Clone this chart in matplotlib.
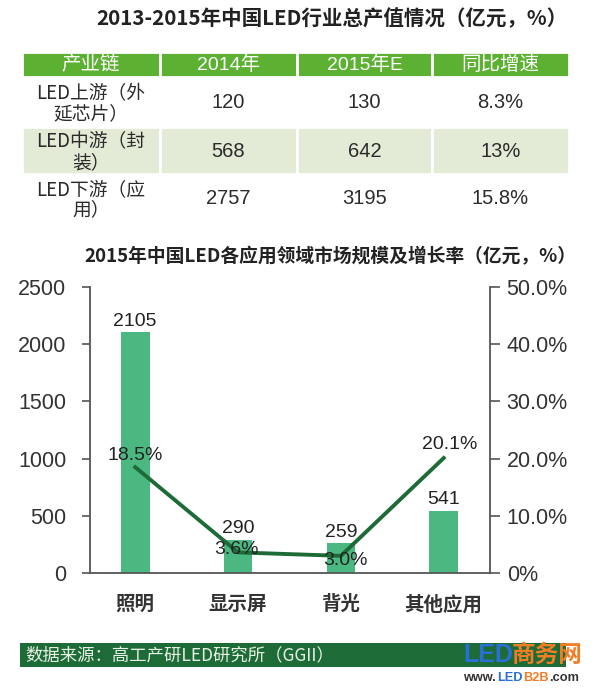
import matplotlib
matplotlib.use('Agg')
import matplotlib.pyplot as plt
from matplotlib.patches import Rectangle
import numpy as np

# table data
table_head = ['产业链', '2014年', '2015年E', '同比增速']
chain = [['LED上游（外', '延芯片）'], ['LED中游（封', '装）'], ['LED下游（应', '用）']]
value_2014 = [120, 568, 2757]
value_2015 = [130, 642, 3195]
growth = ['8.3%', '13%', '15.8%']

# chart data
apps = ['照明', '显示屏', '背光', '其他应用']
market = [2105, 290, 259, 541]
rate = [18.5, 3.6, 3.0, 20.1]
left_ticks = [0, 500, 1000, 1500, 2000, 2500]
right_ticks = [0, 10, 20, 30, 40, 50]

W, H = 600, 695
CJK = ['Noto Sans CJK SC', 'Liberation Sans']
NUM = ['Liberation Sans', 'DejaVu Sans']
TXT = '#2b2b2b'
HEAD_GREEN = '#5cb032'
ROW_SHADE = '#e3ebd7'
BAR_GREEN = '#4cb881'
LINE_GREEN = '#1d6b37'
AXIS_GRAY = '#555555'


def box(left, top, right, bottom):
    """pixel box -> figure fraction rect"""
    return [left / W, 1 - bottom / H, (right - left) / W, (bottom - top) / H]


fig = plt.figure(figsize=(W / 100, H / 100), dpi=100)
fig.patch.set_facecolor('white')

# ---- titles
fig.text(332 / W, 1 - 19 / H, '2013-2015年中国LED行业总产值情况（亿元，%）',
         family=CJK, fontsize=14.8, fontweight='bold', color='#222222',
         ha='center', va='center')
fig.text(330 / W, 1 - 257 / H, '2015年中国LED各应用领域市场规模及增长率（亿元，%）',
         family=CJK, fontsize=13.5, fontweight='bold', color='#222222',
         ha='center', va='center')

# ---- table
col_w = [138, 137, 135, 137]
row_h = [25, 50, 47, 48]
col_x = np.concatenate([[0], np.cumsum(col_w)])
row_y = np.concatenate([[0], np.cumsum(row_h)])

ax_t = fig.add_axes(box(22, 52, 22 + col_x[-1], 52 + row_y[-1]))
ax_t.set_xlim(0, col_x[-1])
ax_t.set_ylim(row_y[-1], 0)
ax_t.axis('off')

rows = [table_head] + [[c, str(a), str(b), g] for c, a, b, g in
                       zip(chain, value_2014, value_2015, growth)]
for i, row in enumerate(rows):
    for j, cell in enumerate(row):
        x0, x1 = col_x[j], col_x[j + 1]
        y0, y1 = row_y[i], row_y[i + 1]
        xc, yc = (x0 + x1) / 2, (y0 + y1) / 2
        if i == 0:
            ax_t.add_patch(Rectangle((x0, y0), x1 - x0, y1 - y0,
                                     facecolor=HEAD_GREEN, edgecolor='white', linewidth=2))
            fam = CJK if j in (0, 3) else NUM + ['Noto Sans CJK SC']
            ax_t.text(xc, yc, cell, family=fam, fontsize=14, color='white',
                      ha='center', va='center')
            continue
        if i == 2:
            ax_t.add_patch(Rectangle((x0, y0), x1 - x0, y1 - y0,
                                     facecolor=ROW_SHADE, edgecolor='white', linewidth=2))
        if isinstance(cell, list):
            ax_t.text(xc, yc - 8.5, cell[0], family=CJK, fontsize=13.5, color=TXT,
                      ha='center', va='center')
            ax_t.text(xc, yc + 12, cell[1], family=CJK, fontsize=13.5, color=TXT,
                      ha='center', va='center')
        else:
            ax_t.text(xc, yc + 1, cell, family=NUM, fontsize=14.5, color=TXT,
                      ha='center', va='center')

# ---- combo chart
ax = fig.add_axes(box(90, 287, 490, 573))
x = np.arange(len(apps))
ax.bar(x, market, width=0.28, color=BAR_GREEN, zorder=2)
ax.set_xlim(-0.44, 3.45)
ax.set_ylim(0, 2500)
ax.set_yticks(left_ticks)
ax.set_yticklabels([str(t) for t in left_ticks], family=NUM,
                   fontsize=15.5, color='#333333')
ax.set_xticks(x)
ax.set_xticklabels(apps, family=CJK, fontsize=14, fontweight='bold', color='#333333')
ax.tick_params(axis='y', direction='out', length=6, width=1.2, color=AXIS_GRAY, pad=11)
ax.tick_params(axis='x', length=0, pad=16)
for side in ['left', 'bottom']:
    ax.spines[side].set_color(AXIS_GRAY)
    ax.spines[side].set_linewidth(1.3)
ax.spines['top'].set_visible(False)
ax.spines['right'].set_visible(False)

for xi, v in zip(x, market):
    ax.annotate(str(v), (xi, v), xytext=(0, 8), textcoords='offset points',
                ha='center', va='center', family=NUM,
                fontsize=14, color='#222222')

ax2 = ax.twinx()
ax2.set_ylim(0, 50)
ax2.set_yticks(right_ticks)
ax2.set_yticklabels(['0%' if t == 0 else f'{t:.1f}%' for t in right_ticks],
                    family=NUM, fontsize=15.5, color='#333333')
ax2.tick_params(axis='y', direction='out', length=7, width=1.2, color=AXIS_GRAY, pad=5)
ax2.spines['right'].set_color(AXIS_GRAY)
ax2.spines['right'].set_linewidth(1.3)
for side in ['left', 'top', 'bottom']:
    ax2.spines[side].set_visible(False)
ax2.plot(x, rate, color=LINE_GREEN, linewidth=2.8, zorder=3)

rate_offsets = [(0, 8.5), (-1, 2), (3, -3.5), (4, 9.5)]
for xi, r, off in zip(x, rate, rate_offsets):
    ax2.annotate(f'{r:.1f}%', (xi, r), xytext=off, textcoords='offset points',
                 ha='center', va='center', family=NUM,
                 fontsize=14, color='#222222', zorder=4)

# ---- footer
fig.patches.append(Rectangle((20 / W, 1 - 667 / H), 546 / W, 24 / H,
                             transform=fig.transFigure, facecolor='#1d6b37',
                             edgecolor='none', zorder=0))
fig.text(25 / W, 1 - 655 / H, '数据来源：高工产研LED研究所（GGII）',
         family=CJK, fontsize=12.5, color='#e8f1e6', ha='left', va='center')

# site watermark
fig.text(463 / W, 1 - 655 / H, 'LED', family=NUM, fontsize=18,
         fontweight='bold', color='#2a6fd6', ha='left', va='center')
fig.text(512 / W, 1 - 655 / H, '商务网', family=CJK, fontsize=17,
         fontweight='bold', color='#f27d27', ha='left', va='center')
wm_parts = [('www.', '#333333', 463), ('LED', '#2a6fd6', 497),
            ('B2B', '#f27d27', 523), ('.com', '#333333', 549)]
for part, col, px in wm_parts:
    fig.text(px / W, 1 - 678 / H, part, family=NUM, fontsize=9.2,
             fontweight='bold', color=col, ha='left', va='center')

fig.savefig('out.png', dpi=100)
